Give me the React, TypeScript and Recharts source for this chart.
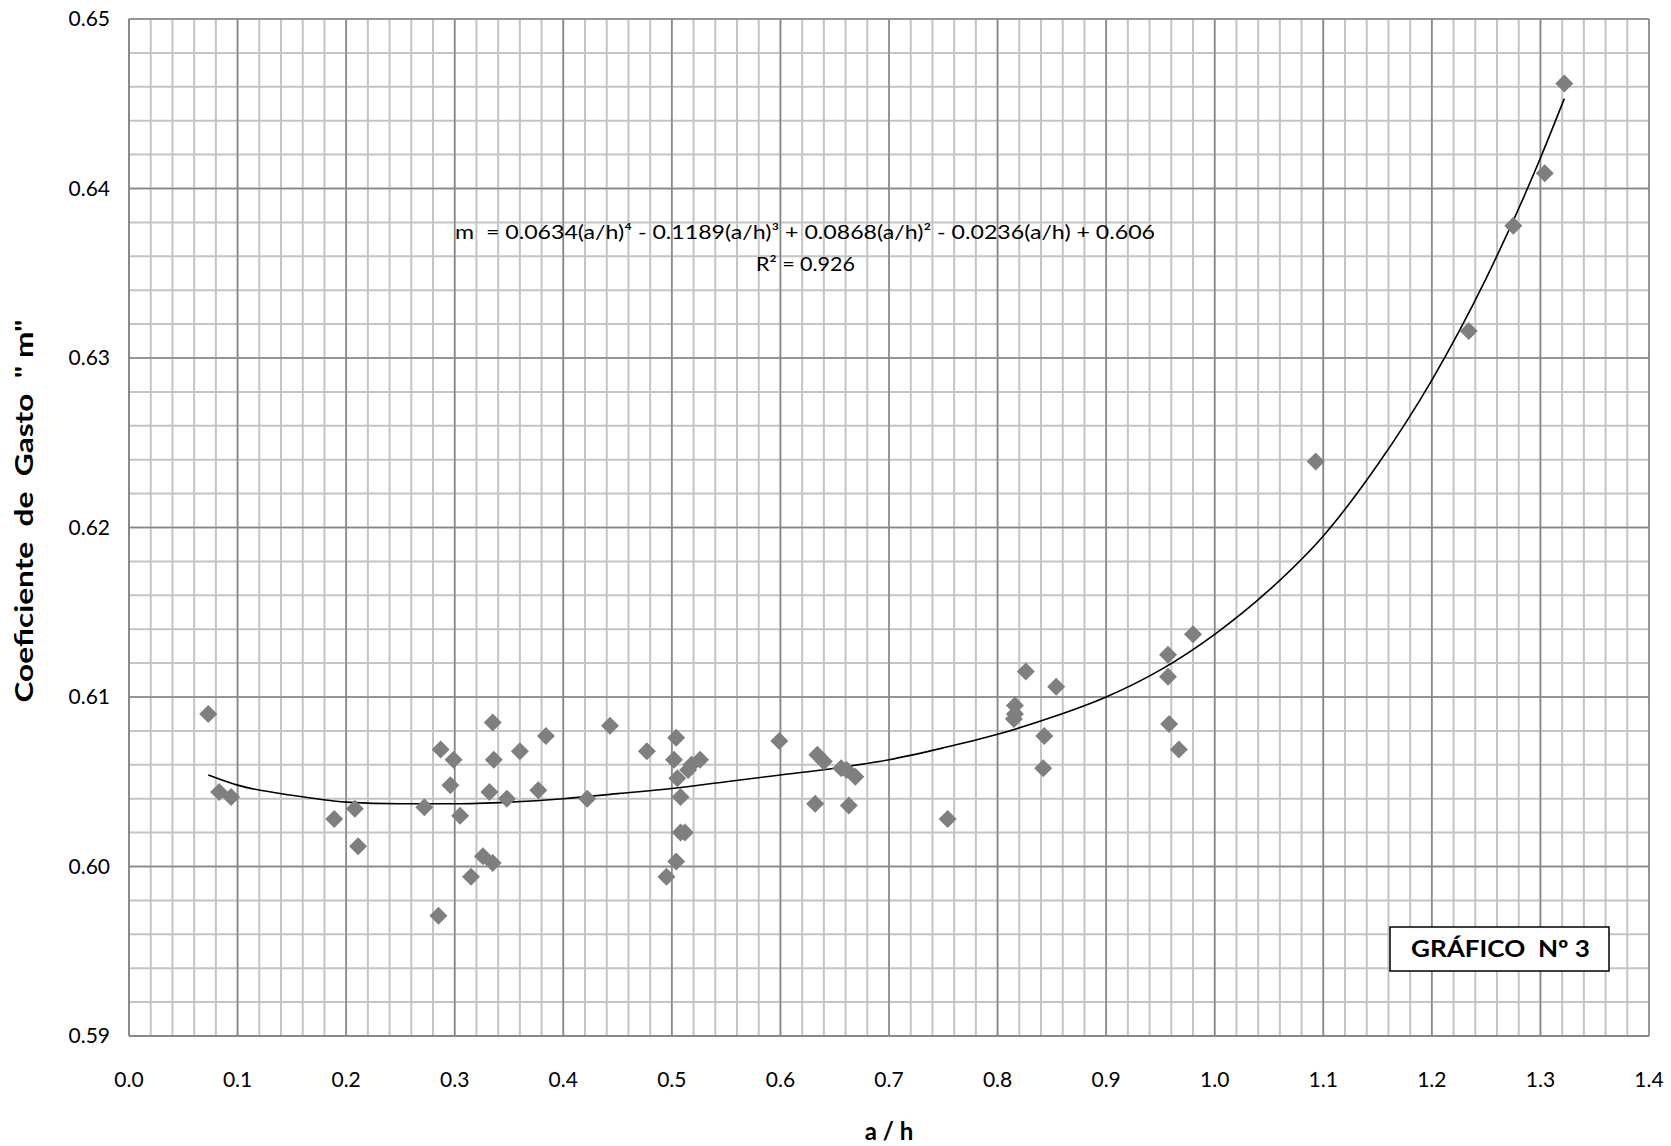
import { ComposedChart, Scatter, Line, XAxis, YAxis, ReferenceLine } from 'recharts';

// measured points: a/h vs coeficiente de gasto m
const ratioAH = [
  0.073, 0.083, 0.094, 0.189, 0.208, 0.211, 0.272, 0.285, 0.287, 0.299, 0.296, 0.305,
  0.315, 0.326, 0.335, 0.335, 0.336, 0.332, 0.348, 0.360, 0.384, 0.377,
  0.422, 0.443, 0.477, 0.504, 0.502, 0.505, 0.508, 0.508, 0.512, 0.504, 0.495, 0.515,
  0.518, 0.526, 0.599, 0.634, 0.640, 0.656, 0.661, 0.669, 0.632, 0.663, 0.754,
  0.816, 0.816, 0.815, 0.826, 0.854, 0.843, 0.842, 0.957, 0.957, 0.980, 0.958, 0.967,
  1.093, 1.234, 1.275, 1.304, 1.322,
];
const coefM = [
  0.6090, 0.6044, 0.6041, 0.6028, 0.6034, 0.6012, 0.6035, 0.5971, 0.6069, 0.6063, 0.6048, 0.6030,
  0.5994, 0.6006, 0.6002, 0.6085, 0.6063, 0.6044, 0.6040, 0.6068, 0.6077, 0.6045,
  0.6040, 0.6083, 0.6068, 0.6076, 0.6063, 0.6052, 0.6041, 0.6020, 0.6020, 0.6003, 0.5994, 0.6057,
  0.6060, 0.6063, 0.6074, 0.6066, 0.6062, 0.6058, 0.6057, 0.6053, 0.6037, 0.6036, 0.6028,
  0.6095, 0.6090, 0.6087, 0.6115, 0.6106, 0.6077, 0.6058, 0.6125, 0.6112, 0.6137, 0.6084, 0.6069,
  0.6239, 0.6316, 0.6378, 0.6409, 0.6462,
];

// polynomial trend line
const trendAH = [
  0.073, 0.1, 0.15, 0.2, 0.25, 0.3, 0.35, 0.4, 0.45, 0.5, 0.55, 0.6, 0.65, 0.7, 0.75,
  0.8, 0.85, 0.9, 0.95, 1.0, 1.05, 1.1, 1.15, 1.2, 1.25, 1.3, 1.322,
];
const trendM = [
  0.6054, 0.6048, 0.6042, 0.6038, 0.6037, 0.6037, 0.6038, 0.6040, 0.6043, 0.6046, 0.6050,
  0.6054, 0.6058, 0.6063, 0.6070, 0.6078, 0.6088, 0.6100, 0.6116, 0.6137, 0.6163, 0.6195,
  0.6237, 0.6287, 0.6347, 0.6418, 0.6453,
];

const xTicks = [0, 0.1, 0.2, 0.3, 0.4, 0.5, 0.6, 0.7, 0.8, 0.9, 1.0, 1.1, 1.2, 1.3, 1.4];
const yTicks = [0.59, 0.6, 0.61, 0.62, 0.63, 0.64, 0.65];
const xMinor = Array.from({ length: 71 }, (_, i) => +(i * 0.02).toFixed(2));
const yMinor = Array.from({ length: 31 }, (_, i) => +(0.59 + i * 0.002).toFixed(3));

const points = ratioAH.map((x, i) => ({ x, y: coefM[i] }));
const trend = trendAH.map((x, i) => ({ x, y: trendM[i] }));

const Diamond = (props: any) => {
  const { cx, cy } = props;
  if (cx == null || cy == null) return null;
  const r = 9;
  return <polygon points={`${cx},${cy - r} ${cx + r},${cy} ${cx},${cy + r} ${cx - r},${cy}`} fill="#7f7f7f" />;
};

const FONT = 'Lato, "Open Sans", sans-serif';
const pre = { whiteSpace: 'pre' as const };

export default function App() {
  return (
    <div style={{ position: 'absolute', left: 0, top: 0, width: 1671, height: 1146, background: '#fff' }}>
      <ComposedChart width={1671} height={1146} margin={{ top: 19, right: 22, bottom: 80, left: 59 }}>
        <XAxis
          dataKey="x"
          type="number"
          domain={[0, 1.4]}
          allowDataOverflow
          ticks={xTicks}
          tickFormatter={(v: number) => v.toFixed(1)}
          tick={{ fill: '#000', fontSize: 21, fontFamily: FONT }}
          tickLine={false}
          tickSize={0}
          tickMargin={36}
          axisLine={{ stroke: '#868686', strokeWidth: 1.5 }}
          height={30}
        />
        <YAxis
          dataKey="y"
          type="number"
          domain={[0.59, 0.65]}
          allowDataOverflow
          ticks={yTicks}
          tickFormatter={(v: number) => v.toFixed(2)}
          tick={{ fill: '#000', fontSize: 21, fontFamily: FONT }}
          tickLine={false}
          tickSize={0}
          tickMargin={19}
          axisLine={{ stroke: '#868686', strokeWidth: 1.5 }}
          width={70}
        />
        {xMinor.map((v) => (
          <ReferenceLine key={'xm' + v} x={v} stroke="#c4c4c4" strokeWidth={2} />
        ))}
        {yMinor.map((v) => (
          <ReferenceLine key={'ym' + v} y={v} stroke="#c4c4c4" strokeWidth={2} />
        ))}
        {xTicks.map((v) => (
          <ReferenceLine key={'xM' + v} x={v} stroke="#868686" strokeWidth={1.5} />
        ))}
        {yTicks.map((v) => (
          <ReferenceLine key={'yM' + v} y={v} stroke="#868686" strokeWidth={1.5} />
        ))}
        <Scatter data={points} dataKey="y" shape={Diamond} isAnimationActive={false} />
        <Line
          data={trend}
          dataKey="y"
          type="monotone"
          stroke="#000"
          strokeWidth={1.6}
          dot={false}
          activeDot={false}
          isAnimationActive={false}
        />
      </ComposedChart>
      <svg
        width={1671}
        height={1146}
        style={{ position: 'absolute', left: 0, top: 0, pointerEvents: 'none' }}
        fontFamily={FONT}
      >
        <text x={455} y={239} fontSize={19} textLength={700} lengthAdjust="spacingAndGlyphs" fill="#000" style={pre}>
          {'m  = 0.0634(a/h)⁴ - 0.1189(a/h)³ + 0.0868(a/h)² - 0.0236(a/h) + 0.606'}
        </text>
        <text x={756} y={271} fontSize={19} textLength={99} lengthAdjust="spacingAndGlyphs" fill="#000" style={pre}>
          {'R² = 0.926'}
        </text>
        <text
          transform="translate(33,511) rotate(-90)"
          textAnchor="middle"
          fontSize={24}
          fontWeight="bold"
          textLength={383}
          lengthAdjust="spacingAndGlyphs"
          fill="#000"
          style={pre}
        >
          {'Coeficiente  de  Gasto  " m"'}
        </text>
        <text x={889} y={1140} textAnchor="middle" fontSize={24} fontWeight="bold" fill="#000" style={pre}>
          {'a / h'}
        </text>
        <rect x={1390} y={927} width={219} height={44} fill="#fff" stroke="#000" strokeWidth={1.5} />
        <text x={1411} y={957} fontSize={23} fontWeight="bold" textLength={179} lengthAdjust="spacingAndGlyphs" fill="#000" style={pre}>
          {'GRÁFICO  Nº 3'}
        </text>
      </svg>
    </div>
  );
}
